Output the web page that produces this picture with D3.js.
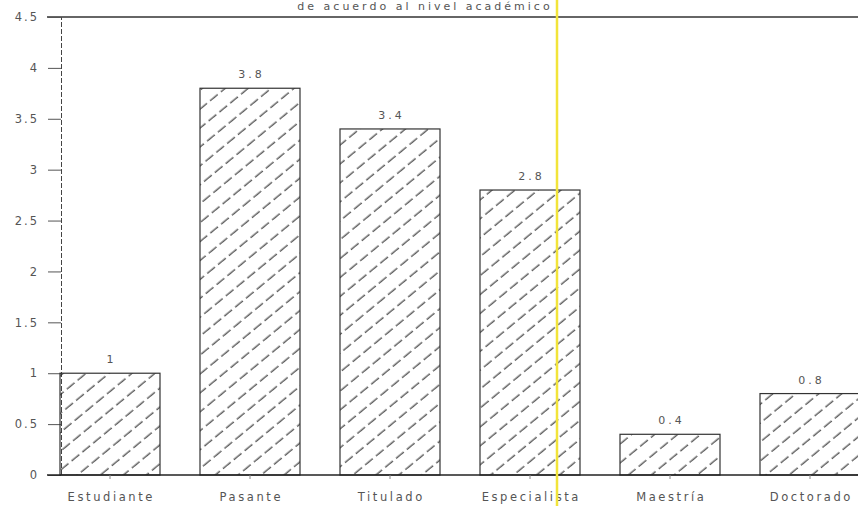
<!DOCTYPE html>
<html>
<head>
<meta charset="utf-8">
<script src="https://cdn.jsdelivr.net/npm/d3@7"></script>
<style>
  body { margin: 0; background: #fff; }
  svg { display: block; }
  text { font-family: "DejaVu Sans", sans-serif; fill: #555; }
</style>
</head>
<body>
<div id="chart"></div>
<script>
// data
var categories = ['Estudiante', 'Pasante', 'Titulado', 'Especialista', 'Maestr\u00eda', 'Doctorado'];
var values = [1, 3.8, 3.4, 2.8, 0.4, 0.8];
var valueLabels = ['1', '3.8', '3.4', '2.8', '0.4', '0.8'];
var yTicks = [0, 0.5, 1, 1.5, 2, 2.5, 3, 3.5, 4, 4.5];
var titleText = 'de acuerdo al nivel acad\u00e9mico';

var width = 858, height = 506;
var y0 = 475, yTop = 17, axisX = 61;

var svg = d3.select('#chart').append('svg')
    .attr('width', width)
    .attr('height', height);

// diagonal hatching like the plotter fill
var defs = svg.append('defs');
var pat = defs.append('pattern')
    .attr('id', 'hatch')
    .attr('patternUnits', 'userSpaceOnUse')
    .attr('width', 14)
    .attr('height', 14.6)
    .attr('patternTransform', 'rotate(-39.5)');
pat.append('line')
    .attr('x1', 0).attr('y1', 7)
    .attr('x2', 14).attr('y2', 7)
    .attr('stroke', '#2a2a2a')
    .attr('stroke-width', 1.1)
    .attr('stroke-dasharray', '10,4');

var x = d3.scaleBand()
    .domain(categories)
    .range([40, 880])
    .paddingInner(2 / 7)
    .paddingOuter(1 / 7);

var y = d3.scaleLinear()
    .domain([0, 4.5])
    .range([y0, yTop]);

// title (first line is off the page)
svg.append('text')
    .attr('x', 425)
    .attr('y', 10)
    .attr('text-anchor', 'middle')
    .style('font-size', '11px')
    .style('letter-spacing', '3px')
    .text(titleText);

// top frame line
svg.append('line')
    .attr('x1', 47).attr('x2', width)
    .attr('y1', y(4.5)).attr('y2', y(4.5))
    .attr('stroke', '#333')
    .attr('stroke-width', 1.3);

// y axis
var yAxis = d3.axisLeft(y)
    .tickValues(yTicks)
    .tickSize(13)
    .tickPadding(9)
    .tickFormat(function (d) { return String(d); });
var gy = svg.append('g')
    .attr('transform', 'translate(' + axisX + ',0)')
    .call(yAxis);
gy.select('.domain')
    .attr('stroke', '#444')
    .attr('stroke-dasharray', '5,2');
gy.selectAll('.tick line').attr('stroke', '#555');
gy.selectAll('.tick text')
    .style('font-size', '11.5px')
    .style('letter-spacing', '2px')
    .attr('fill', '#555');

// bars
svg.selectAll('rect.bar')
    .data(values)
    .enter().append('rect')
    .attr('class', 'bar')
    .attr('x', function (d, i) { return x(categories[i]); })
    .attr('y', function (d) { return y(d); })
    .attr('width', x.bandwidth())
    .attr('height', function (d) { return y0 - y(d); })
    .attr('fill', 'url(#hatch)')
    .attr('stroke', '#333')
    .attr('stroke-width', 1.2);

// value labels
svg.selectAll('text.val')
    .data(values)
    .enter().append('text')
    .attr('class', 'val')
    .attr('x', function (d, i) { return x(categories[i]) + x.bandwidth() / 2 + 1.5; })
    .attr('y', function (d) { return y(d) - 10; })
    .attr('text-anchor', 'middle')
    .style('font-size', '11px')
    .style('letter-spacing', '3px')
    .text(function (d, i) { return valueLabels[i]; });

// x axis
var xAxis = d3.axisBottom(x)
    .tickSize(4)
    .tickPadding(14)
    .tickSizeOuter(0);
var gx = svg.append('g')
    .attr('transform', 'translate(0,' + y0 + ')')
    .call(xAxis);
gx.select('.domain')
    .attr('d', 'M47,0H' + width)
    .attr('stroke', '#222')
    .attr('stroke-width', 1.5);
gx.selectAll('.tick line').attr('stroke', '#888');
gx.selectAll('.tick text')
    .attr('dx', '1.3px')
    .style('font-size', '11.5px')
    .style('letter-spacing', '2.6px')
    .attr('fill', '#555');

// yellow marker line across the scan
svg.append('line')
    .attr('x1', 557).attr('x2', 557)
    .attr('y1', 0).attr('y2', height)
    .attr('stroke', '#f2e43a')
    .attr('stroke-width', 2.5);
</script>
</body>
</html>
